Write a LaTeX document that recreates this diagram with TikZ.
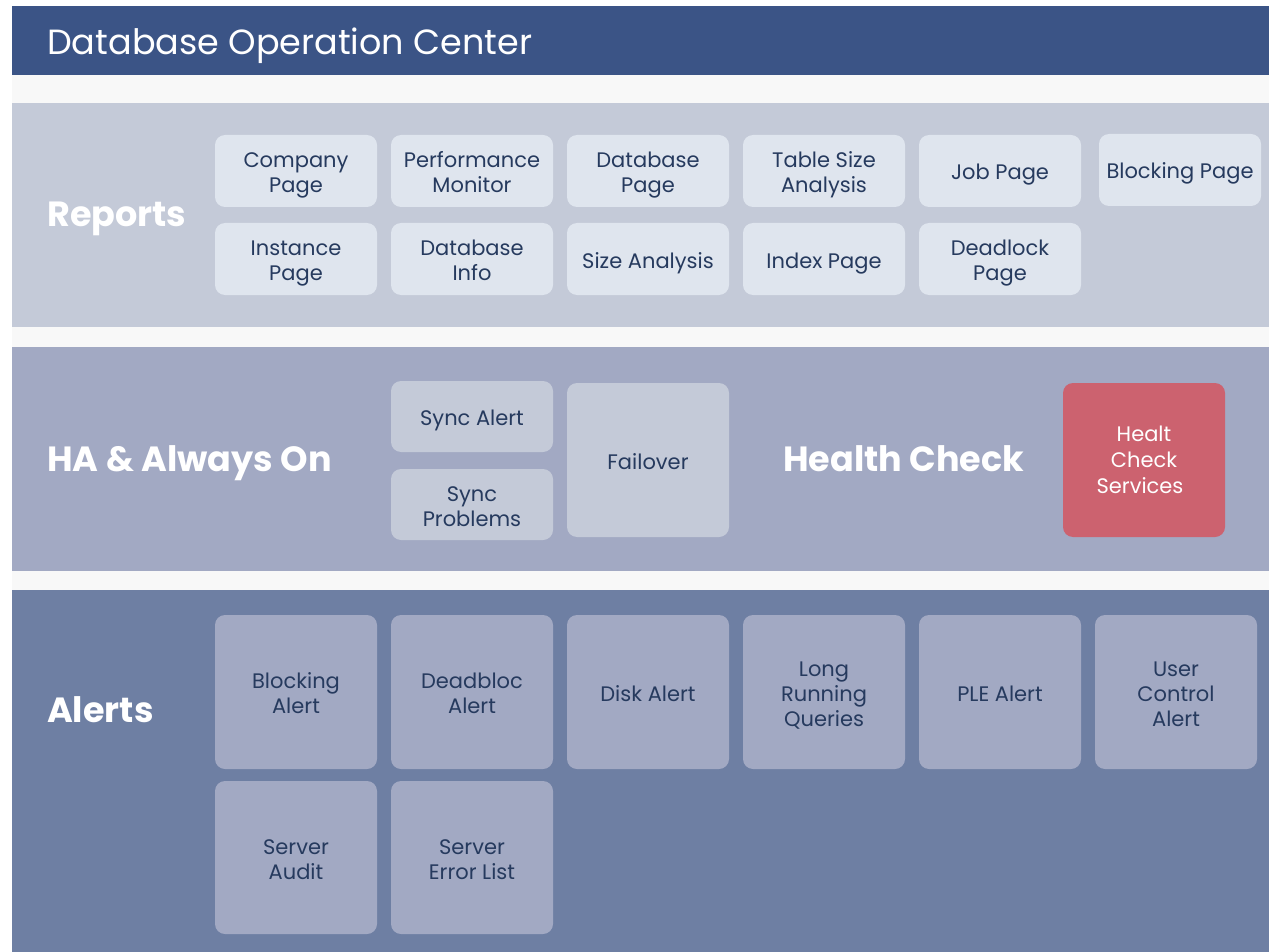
\documentclass[tikz,border=0pt]{standalone}
\usepackage{fontspec}
\setmainfont{Poppins}
\definecolor{hdr}{HTML}{3B5486}
\definecolor{gapc}{HTML}{F8F8F8}
\definecolor{repband}{HTML}{C4CAD8}
\definecolor{haband}{HTML}{A2A9C3}
\definecolor{alband}{HTML}{6E7FA3}
\definecolor{repbox}{HTML}{DFE5EE}
\definecolor{habox}{HTML}{C4CAD8}
\definecolor{albox}{HTML}{A2A9C3}
\definecolor{redbox}{HTML}{CC626F}
\definecolor{boxtext}{HTML}{263A5E}
\newcommand{\lnst}{\strut}
\newcommand{\fst}{\strut\rule{0pt}{25.5pt}}
\begin{document}
\begin{tikzpicture}[x=1pt,y=-1pt,
  box/.style={rounded corners=10pt, inner sep=0pt, align=center, text=boxtext,
    font=\fontsize{21}{25}\selectfont, minimum width=162pt},
  rbox/.style={box, fill=repbox, minimum height=72pt},
  hbox/.style={box, fill=habox},
  abox/.style={box, fill=albox, minimum height=154pt},
  seclabel/.style={anchor=base west, inner sep=0pt, text=white, font=\fontsize{35}{40}\selectfont\bfseries},
]
\useasboundingbox (0,0) rectangle (1269,952);
\fill[white] (0,0) rectangle (1269,952);
\fill[gapc] (12,6) rectangle (1269,952);
% bands
\fill[hdr] (12,6) rectangle (1269,75);
\fill[repband] (12,103) rectangle (1269,327);
\fill[haband] (12,347) rectangle (1269,571);
\fill[alband] (12,590) rectangle (1269,952);
% title
\node[anchor=base west, inner sep=0pt, text=white, font=\fontsize{35}{40}\selectfont] (title) at (47,55) {Database Operation Center};
% section labels
\node[seclabel] (reports) at (47,226) {Reports};
\node[seclabel] (ha) at (47,471) {HA \& Always On};
\node[seclabel] (hc) at (783,471) {Health Check};
\node[seclabel] (alerts) at (47,722) {Alerts};
% reports boxes
\node[rbox] (company) at (296,171) {\fst Company\\\lnst Page};
\node[rbox] (perf) at (472,171) {\fst Performance\\\lnst Monitor};
\node[rbox] (dbpage) at (648,171) {\fst Database\\\lnst Page};
\node[rbox] (tsize) at (824,171) {\fst Table Size\\\lnst Analysis};
\node[rbox] (job) at (1000,171) {\fst Job Page};
\node[rbox] (blockp) at (1180,170) {\fst Blocking Page};
\node[rbox] (inst) at (296,259) {\fst Instance\\\lnst Page};
\node[rbox] (dbinfo) at (472,259) {\fst Database\\\lnst Info};
\node[rbox] (sizea) at (648,259) {\fst Size Analysis};
\node[rbox] (index) at (824,259) {\fst Index Page};
\node[rbox] (deadp) at (1000,259) {\fst Deadlock\\\lnst Page};
% HA boxes
\node[hbox, minimum height=71pt] (syncal) at (472,416.5) {\fst Sync Alert};
\node[hbox, minimum height=71pt] (syncpr) at (472,504.5) {\fst Sync\\\lnst Problems};
\node[hbox, minimum height=154pt] (failover) at (648,460) {\fst Failover};
\node[hbox, fill=redbox, text=white, minimum height=154pt, font=\fontsize{21}{26}\selectfont] (hcs) at (1144,460) {\lnst\rule{0pt}{22pt}Healt\\\lnst Check\\\lnst Services\hspace*{8pt}};
% alerts boxes
\node[abox] (blocka) at (296,692) {\fst Blocking\\\lnst Alert};
\node[abox] (deada) at (472,692) {\fst Deadbloc\\\lnst Alert};
\node[abox] (disk) at (648,692) {\fst Disk Alert};
\node[abox] (longq) at (824,692) {\fst Long\\\lnst Running\\\lnst Queries};
\node[abox] (ple) at (1000,692) {\fst PLE Alert};
\node[abox] (userc) at (1176,692) {\fst User\\\lnst Control\\\lnst Alert};
\node[abox, minimum height=153pt] (saudit) at (296,857.5) {\fst Server\\\lnst Audit};
\node[abox, minimum height=153pt] (serr) at (472,857.5) {\fst Server\\\lnst Error List};
\end{tikzpicture}
\end{document}
